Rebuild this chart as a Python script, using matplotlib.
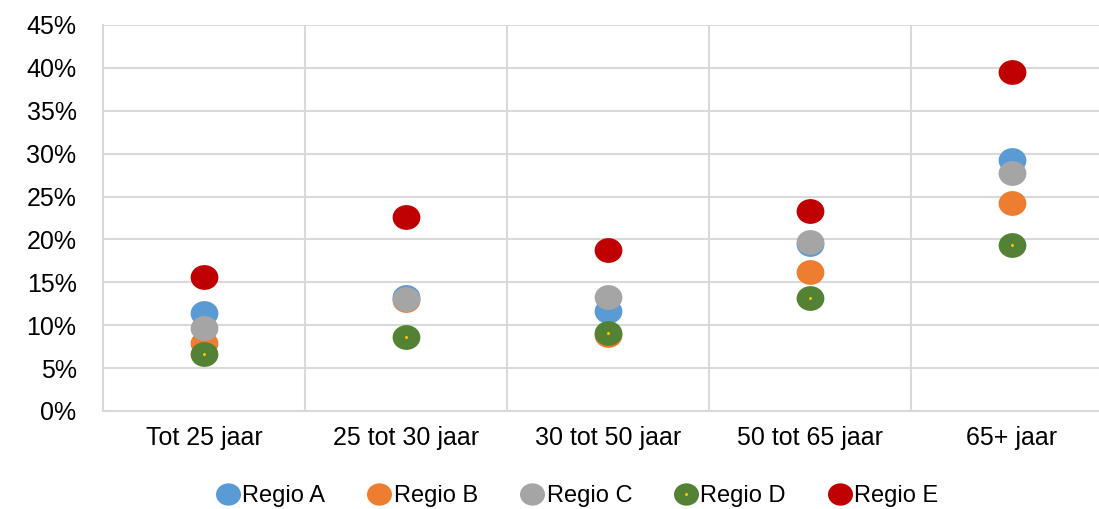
import matplotlib
matplotlib.use("Agg")
import matplotlib.pyplot as plt
from matplotlib.ticker import PercentFormatter, MultipleLocator
from matplotlib.lines import Line2D
from matplotlib.legend_handler import HandlerTuple
from matplotlib.path import Path
from matplotlib.transforms import Affine2D

plt.rcParams['font.family'] = ['Liberation Sans', 'DejaVu Sans']

categories = ["Tot 25 jaar", "25 tot 30 jaar", "30 tot 50 jaar", "50 tot 65 jaar", "65+ jaar"]
regio_a = [11.4, 13.3, 11.6, 19.5, 29.3]
regio_b = [7.9, 12.9, 8.9, 16.2, 24.3]
regio_c = [9.7, 13.1, 13.3, 19.7, 27.8]
regio_d = [6.6, 8.6, 9.05, 13.2, 19.35]
regio_e = [15.6, 22.6, 18.8, 23.35, 39.55]
series_names = ["Regio A", "Regio B", "Regio C", "Regio D", "Regio E"]
colors = ["#5B9BD5", "#ED7D31", "#A5A5A5", "#548235", "#C00000"]

W, H = 1099, 509
fig = plt.figure(figsize=(W / 100, H / 100), dpi=100)
left, right, bottom, top = 103, 1113, 411, 25
ax = fig.add_axes([left / W, 1 - bottom / H, (right - left) / W, (bottom - top) / H])

ellipse = Path.unit_circle().transformed(Affine2D().scale(1.12, 1.0))

x = list(range(len(categories)))
ms = 20
lms = 18
handles = []
for i, (name, vals, c) in enumerate(zip(series_names, [regio_a, regio_b, regio_c, regio_d, regio_e], colors)):
    ax.plot(x, vals, linestyle='none', marker=ellipse, markersize=ms, markerfacecolor=c,
            markeredgewidth=0, zorder=3 + i, clip_on=False)
    base = Line2D([], [], linestyle='none', marker=ellipse, markersize=lms, markerfacecolor=c, markeredgewidth=0)
    if name == "Regio D":
        ax.plot(x, vals, linestyle='none', marker='o', markersize=2.2, markerfacecolor='#FFC000',
                markeredgewidth=0, zorder=3 + i + 0.5, clip_on=False)
        handles.append((base, Line2D([], [], linestyle='none', marker='o', markersize=2.2,
                                     markerfacecolor='#FFC000', markeredgewidth=0)))
    else:
        handles.append(base)

ax.set_xlim(-0.5, len(categories) - 0.5)
ax.set_ylim(0, 45)
ax.yaxis.set_major_locator(MultipleLocator(5))
ax.yaxis.set_major_formatter(PercentFormatter(decimals=0))
ax.set_xticks(x)
ax.set_xticklabels(categories)
ax.set_xticks([i + 0.5 for i in x[:-1]], minor=True)

gc = '#D9D9D9'
ax.grid(axis='y', which='major', color=gc, linewidth=1.5)
ax.grid(axis='x', which='minor', color=gc, linewidth=1.5)
ax.set_axisbelow(True)
for s in ['top', 'right']:
    ax.spines[s].set_visible(False)
for s in ['left', 'bottom']:
    ax.spines[s].set_color(gc)
    ax.spines[s].set_linewidth(1.5)

ax.tick_params(axis='both', which='both', length=0, labelsize=18, colors='black')
ax.tick_params(axis='y', pad=19)
ax.tick_params(axis='x', pad=11)

leg = fig.legend(handles, series_names, loc='center', bbox_to_anchor=(577 / W, 1 - 496 / H),
                 ncol=5, frameon=False, fontsize=17, handletextpad=0.1, columnspacing=1.75,
                 handlelength=1.05, borderpad=0,
                 handler_map={tuple: HandlerTuple(ndivide=1, pad=0)})

fig.savefig("out.png", dpi=100)
